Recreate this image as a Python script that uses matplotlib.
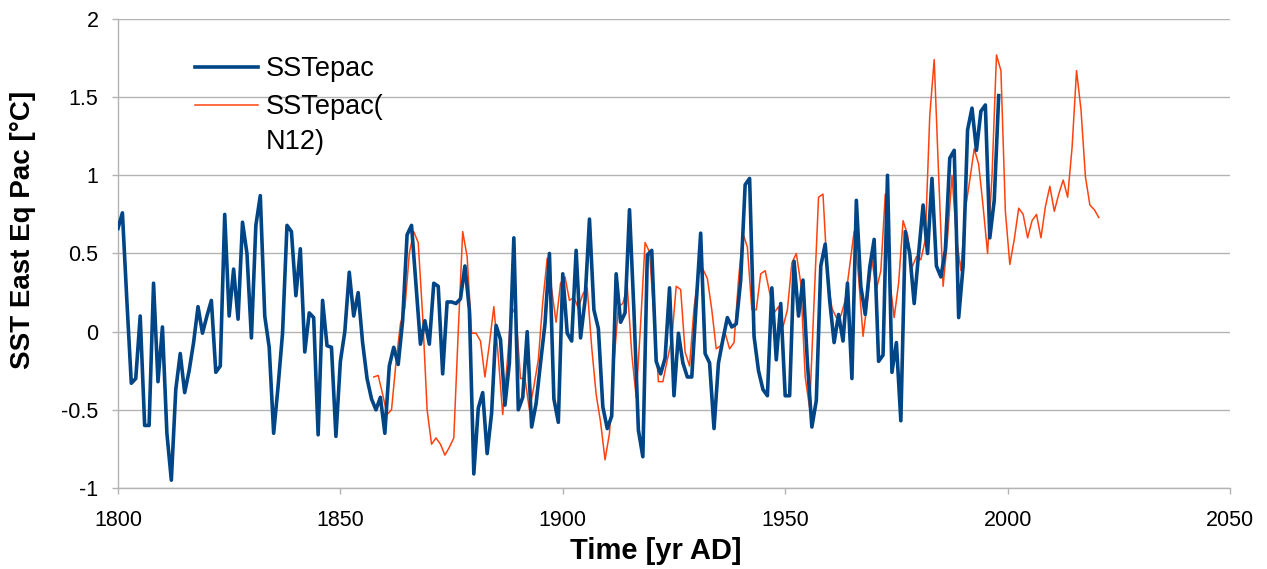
import numpy as np
import matplotlib
matplotlib.use("Agg")
import matplotlib.pyplot as plt
from matplotlib.legend_handler import HandlerLine2D

plt.rcParams['font.family'] = ['Liberation Sans', 'DejaVu Sans']

# SSTepac, yearly 1800-1998
blue_start = 1800
blue_vals = [
    0.66, 0.76, 0.20, -0.33, -0.30, 0.10, -0.60, -0.60, 0.31, -0.32,    # 1800s
    0.03, -0.65, -0.95, -0.37, -0.14, -0.39, -0.25, -0.07, 0.16, -0.01,  # 1810s
    0.10, 0.20, -0.26, -0.22, 0.75, 0.10, 0.40, 0.08, 0.70, 0.50,      # 1820s
    -0.04, 0.68, 0.87, 0.10, -0.10, -0.65, -0.35, -0.01, 0.68, 0.64,   # 1830s
    0.23, 0.53, -0.13, 0.12, 0.09, -0.66, 0.20, -0.09, -0.10, -0.67,   # 1840s
    -0.19, 0.00, 0.38, 0.10, 0.25, -0.07, -0.30, -0.43, -0.50, -0.42,  # 1850s
    -0.65, -0.22, -0.10, -0.21, 0.07, 0.62, 0.68, 0.30, -0.08, 0.07,   # 1860s
    -0.08, 0.31, 0.29, -0.27, 0.19, 0.19, 0.18, 0.21, 0.42, 0.14,      # 1870s
    -0.91, -0.49, -0.39, -0.78, -0.52, 0.04, -0.05, -0.47, -0.20, 0.60,  # 1880s
    -0.50, -0.42, 0.00, -0.61, -0.46, -0.20, 0.05, 0.50, -0.43, -0.58,  # 1890s
    0.37, -0.01, -0.06, 0.52, -0.04, 0.20, 0.72, 0.14, 0.02, -0.48,    # 1900s
    -0.62, -0.54, 0.37, 0.06, 0.12, 0.78, 0.13, -0.63, -0.80, 0.49,    # 1910s
    0.52, -0.19, -0.27, -0.17, 0.28, -0.41, -0.01, -0.20, -0.29, -0.29,  # 1920s
    0.18, 0.63, -0.14, -0.20, -0.62, -0.20, -0.05, 0.09, 0.03, 0.05,   # 1930s
    0.33, 0.94, 0.98, -0.03, -0.25, -0.37, -0.41, 0.28, -0.18, 0.18,   # 1940s
    -0.41, -0.41, 0.45, 0.10, 0.33, -0.20, -0.61, -0.44, 0.42, 0.56,   # 1950s
    0.20, -0.07, 0.11, -0.06, 0.31, -0.30, 0.84, 0.29, 0.11, 0.41,     # 1960s
    0.59, -0.19, -0.15, 1.00, -0.26, -0.07, -0.57, 0.64, 0.50, 0.18,   # 1970s
    0.50, 0.81, 0.50, 0.98, 0.42, 0.35, 0.52, 1.11, 1.16, 0.09,        # 1980s
    0.42, 1.29, 1.43, 1.16, 1.41, 1.45, 0.60, 0.84, 1.51,              # 1990s
]

# SSTepac(N12), yearly mid-year values 1857.5-2020.5
red_start = 1857.5
red_vals = [
    -0.29, -0.28, -0.40,                                              # 1857-1859
    -0.53, -0.50, -0.20, 0.05, 0.15, 0.50, 0.64, 0.57, 0.10, -0.50,   # 1860s
    -0.72, -0.68, -0.72, -0.79, -0.74, -0.68, 0.00, 0.64, 0.48, -0.01,  # 1870s
    -0.01, -0.06, -0.29, -0.08, 0.16, -0.16, -0.53, -0.20, 0.16, 0.10,  # 1880s
    -0.30, -0.30, -0.50, -0.35, -0.18, 0.19, 0.47, 0.27, 0.06, 0.31,  # 1890s
    0.35, 0.20, 0.22, 0.15, 0.24, 0.28, -0.10, -0.40, -0.58, -0.82,   # 1900s
    -0.65, -0.20, 0.16, 0.18, 0.29, -0.14, -0.42, 0.05, 0.57, 0.51,   # 1910s
    0.10, -0.32, -0.32, -0.18, -0.05, 0.29, 0.27, -0.13, -0.22, 0.15,  # 1920s
    0.37, 0.40, 0.34, 0.14, -0.11, -0.09, -0.01, -0.11, -0.07, 0.33,  # 1930s
    0.63, 0.54, 0.14, 0.14, 0.37, 0.39, 0.25, 0.12, 0.16, 0.03,       # 1940s
    0.14, 0.44, 0.50, 0.31, -0.29, -0.49, 0.20, 0.86, 0.88, 0.35,     # 1950s
    0.15, 0.09, 0.10, 0.20, 0.42, 0.64, 0.35, -0.03, 0.20, 0.46,      # 1960s
    0.27, 0.39, 0.88, 0.33, 0.09, 0.31, 0.71, 0.62, 0.41, 0.48,       # 1970s
    0.46, 0.59, 1.38, 1.74, 1.00, 0.29, 0.60, 1.00, 0.60, 0.39,       # 1980s
    0.78, 0.97, 1.17, 1.07, 0.80, 0.50, 1.00, 1.77, 1.67, 0.77,       # 1990s
    0.43, 0.59, 0.79, 0.75, 0.60, 0.71, 0.75, 0.60, 0.80, 0.93,       # 2000s
    0.77, 0.88, 0.97, 0.86, 1.18, 1.67, 1.42, 0.99, 0.81, 0.78,       # 2010s
    0.73,                                                             # 2020
]

blue_years = blue_start + np.arange(len(blue_vals))
red_years = red_start + np.arange(len(red_vals))

blue_col = '#004586'
red_col = '#ff420e'
grid_col = '#b3b3b3'
leg_linespacing = 1.45


class FirstLineHandler(HandlerLine2D):
    # put the legend line next to the first line of a wrapped label
    def create_artists(self, legend, orig_handle, xdescent, ydescent,
                       width, height, fontsize, trans):
        arts = super().create_artists(legend, orig_handle, xdescent, ydescent,
                                      width, height, fontsize, trans)
        for a in arts:
            a.set_ydata(np.asarray(a.get_ydata()) + 0.5 * leg_linespacing * fontsize)
        return arts


fig = plt.figure(figsize=(12.67, 5.69), dpi=100)
ax = fig.add_axes([0.0931, 0.1424, 0.8777, 0.8242])

ln_b, = ax.plot(blue_years, blue_vals, color=blue_col, lw=2.6, label='SSTepac', zorder=3)
ln_r, = ax.plot(red_years, red_vals, color=red_col, lw=1.1, label='SSTepac(\nN12)', zorder=2)

ax.set_xlim(1800, 2050)
ax.set_ylim(-1, 2)
ax.set_xticks(np.arange(1800, 2051, 50))
ax.set_yticks(np.arange(-1, 2.01, 0.5))
ax.set_yticklabels(['-1', '-0.5', '0', '0.5', '1', '1.5', '2'])
ax.yaxis.grid(True, color=grid_col, lw=1)
ax.set_axisbelow(True)

for s in ['top', 'right']:
    ax.spines[s].set_visible(False)
for s in ['left', 'bottom']:
    ax.spines[s].set_color(grid_col)
    ax.spines[s].set_linewidth(1)
ax.tick_params(axis='both', colors=grid_col, length=4, width=1, labelsize=15.5,
               labelcolor='black')
ax.tick_params(axis='x', pad=12)
ax.tick_params(axis='y', pad=10)

ax.set_xlabel('Time [yr AD]', fontsize=21, fontweight='bold')
ax.set_ylabel('SST East Eq Pac [°C]', fontsize=20, fontweight='bold')
ax.xaxis.set_label_coords(0.484, -0.104)
ax.yaxis.set_label_coords(-0.074, 0.55)

leg = ax.legend(handles=[ln_b, ln_r], loc='upper left', bbox_to_anchor=(0.055, 0.955),
                frameon=False, fontsize=19.5, handlelength=2.3, handletextpad=0.3,
                labelspacing=0.42, borderaxespad=0.2,
                handler_map={ln_r: FirstLineHandler()})
for t in leg.get_texts():
    t.set_linespacing(leg_linespacing)

fig.savefig('out.png', dpi=100)
